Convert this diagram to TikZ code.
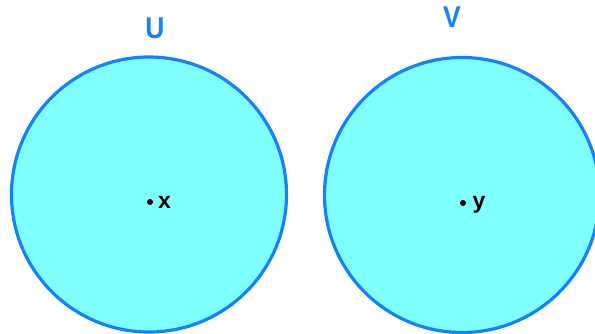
\documentclass[tikz,border=0pt]{standalone}
\usepackage{fontspec}
\setmainfont{Liberation Sans}
\definecolor{setblue}{RGB}{20,130,255}
\definecolor{setfill}{RGB}{128,255,255}
\begin{document}
\begin{tikzpicture}[x=1pt,y=-1pt,
  setcircle/.style={draw=setblue,fill=setfill,line width=3.2pt},
  setlabel/.style={text=setblue,font=\bfseries\fontsize{30}{30}\selectfont,inner sep=0pt,anchor=base,xscale=0.88},
  ptdot/.style={fill=black,circle,inner sep=0pt,minimum size=6pt},
  ptlabel/.style={font=\bfseries\fontsize{23}{23}\selectfont,inner sep=0pt,anchor=base}]
\useasboundingbox (0,0) rectangle (595,334);
\clip (0,0) rectangle (595,334);
\fill[white] (0,0) rectangle (595,334);
\draw[setcircle] (149,194.5) circle[radius=137.5];
\draw[setcircle] (462,195) circle[radius=137.5];
\node[setlabel] (U) at (155,38.5) {U};
\node[setlabel] (V) at (452,28) {V};
\node[ptdot] (px) at (150,202) {};
\node[ptlabel] (lx) at (164.5,209) {x};
\node[ptdot] (py) at (463,203) {};
\node[ptlabel] (ly) at (479,209) {y};
\end{tikzpicture}
\end{document}
